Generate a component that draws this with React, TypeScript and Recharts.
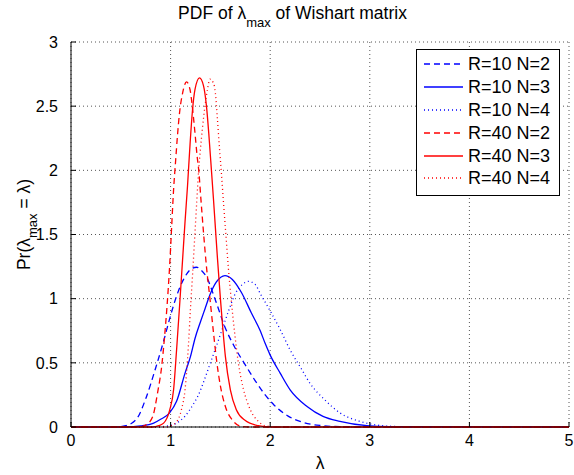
import React from 'react';
import { LineChart, Line, XAxis, YAxis, CartesianGrid, Legend, Label } from 'recharts';

// ---- data ----
const r10n2: number[][] = [
  [0, 0], [0.45, 0], [0.55, 0.01], [0.62, 0.035], [0.67, 0.075], [0.75, 0.22], [0.85, 0.46],
  [0.93, 0.67], [1.0, 0.87], [1.06, 1.02], [1.13, 1.15], [1.19, 1.22], [1.26, 1.245],
  [1.31, 1.22], [1.36, 1.17], [1.445, 1.0], [1.545, 0.78], [1.645, 0.62], [1.745, 0.49],
  [1.85, 0.36], [1.94, 0.26], [2.04, 0.17], [2.18, 0.085], [2.33, 0.036], [2.5, 0.012],
  [2.7, 0.003], [3.0, 0], [5, 0],
];
const r10n3: number[][] = [
  [0, 0], [0.55, 0], [0.7, 0.008], [0.83, 0.03], [0.9, 0.06], [0.99, 0.11], [1.06, 0.2],
  [1.145, 0.42], [1.2, 0.55], [1.245, 0.69], [1.3, 0.82], [1.345, 0.92], [1.395, 1.03],
  [1.46, 1.13], [1.546, 1.18], [1.62, 1.15], [1.71, 1.05], [1.81, 0.89], [1.9, 0.75],
  [1.95, 0.65], [2.0, 0.56], [2.1, 0.42], [2.2, 0.29], [2.37, 0.16], [2.53, 0.083],
  [2.7, 0.044], [2.97, 0.01], [3.2, 0.002], [5, 0],
];
const r10n4: number[][] = [
  [0, 0], [0.85, 0], [0.97, 0.008], [1.06, 0.03], [1.145, 0.085], [1.23, 0.18], [1.28, 0.25],
  [1.34, 0.37], [1.4, 0.5], [1.5, 0.72], [1.58, 0.9], [1.65, 1.04], [1.72, 1.11],
  [1.78, 1.135], [1.85, 1.11], [1.9, 1.04], [2.01, 0.89], [2.1, 0.76], [2.2, 0.6],
  [2.3, 0.47], [2.4, 0.34], [2.55, 0.21], [2.7, 0.11], [2.9, 0.044], [3.1, 0.012],
  [3.3, 0.003], [3.5, 0], [5, 0],
];
const r40n2: number[][] = [
  [0, 0], [0.66, 0], [0.72, 0.005], [0.76, 0.02], [0.82, 0.08], [0.87, 0.27], [0.91, 0.47],
  [0.94, 0.71], [0.965, 0.95], [0.99, 1.25], [1.01, 1.55], [1.03, 1.85], [1.05, 2.07],
  [1.07, 2.28], [1.09, 2.45], [1.12, 2.6], [1.16, 2.69], [1.195, 2.63], [1.21, 2.55],
  [1.245, 2.29], [1.265, 2.12], [1.285, 1.98], [1.3, 1.82], [1.33, 1.52], [1.36, 1.25],
  [1.395, 1.0], [1.43, 0.74], [1.46, 0.53], [1.5, 0.32], [1.55, 0.16], [1.63, 0.045],
  [1.71, 0.005], [1.8, 0], [5, 0],
];
const r40n3: number[][] = [
  [0, 0], [0.82, 0], [0.88, 0.01], [0.93, 0.03], [0.99, 0.13], [1.03, 0.29], [1.06, 0.6],
  [1.094, 0.99], [1.12, 1.3], [1.145, 1.6], [1.17, 1.88], [1.195, 2.2], [1.22, 2.47],
  [1.245, 2.63], [1.29, 2.72], [1.33, 2.66], [1.36, 2.5], [1.385, 2.27], [1.41, 2.0],
  [1.43, 1.78], [1.45, 1.55], [1.47, 1.32], [1.5, 1.0], [1.525, 0.76], [1.55, 0.55],
  [1.6, 0.29], [1.66, 0.135], [1.75, 0.05], [1.88, 0.01], [2.0, 0], [5, 0],
];
const r40n4: number[][] = [
  [0, 0], [0.95, 0], [1.0, 0.01], [1.06, 0.04], [1.11, 0.14], [1.145, 0.29], [1.16, 0.42],
  [1.18, 0.65], [1.2, 0.93], [1.22, 1.18], [1.24, 1.45], [1.26, 1.72], [1.28, 1.98],
  [1.3, 2.17], [1.32, 2.33], [1.345, 2.5], [1.37, 2.63], [1.395, 2.71], [1.43, 2.68],
  [1.45, 2.6], [1.47, 2.4], [1.49, 2.18], [1.51, 1.98], [1.53, 1.76], [1.555, 1.5],
  [1.58, 1.24], [1.61, 0.98], [1.645, 0.72], [1.68, 0.5], [1.73, 0.3], [1.8, 0.135],
  [1.88, 0.045], [1.95, 0.01], [2.05, 0], [5, 0],
];

const seriesNames = ['R=10 N=2', 'R=10 N=3', 'R=10 N=4', 'R=40 N=2', 'R=40 N=3', 'R=40 N=4'];
const seriesValues = [r10n2, r10n3, r10n4, r40n2, r40n3, r40n4];
const xTicks = [0, 1, 2, 3, 4, 5];
const yTicks = [0, 0.5, 1, 1.5, 2, 2.5, 3];

// ---- styles ----
const FF = '"Liberation Sans", Arial, Helvetica, sans-serif';
const BLUE = '#0000ff';
const RED = '#ff0000';
const styles = [
  { color: BLUE, dash: '6 4' },
  { color: BLUE, dash: undefined },
  { color: BLUE, dash: '1 3' },
  { color: RED, dash: '6 4' },
  { color: RED, dash: undefined },
  { color: RED, dash: '1 3' },
];

const series = seriesNames.map((name, i) => ({
  name,
  data: seriesValues[i].map(([x, y]) => ({ x, y })),
  ...styles[i],
}));

const LegendBox = () => (
  <div
    style={{
      border: '1px solid #000',
      background: '#fff',
      padding: '3px 0 5px 0',
      width: 142,
      fontFamily: FF,
      fontSize: 18,
      color: '#000',
    }}
  >
    {series.map((s) => (
      <div key={s.name} style={{ display: 'flex', alignItems: 'center', height: 22.8 }}>
        <svg width={48} height={10} style={{ flex: 'none' }}>
          <line x1={7} y1={5} x2={46} y2={5} stroke={s.color} strokeWidth={1.3} strokeDasharray={s.dash} />
        </svg>
        <span style={{ marginLeft: 3, whiteSpace: 'nowrap', lineHeight: '22px' }}>{s.name}</span>
      </div>
    ))}
  </div>
);

const YTitle = (props: any) => {
  const vb = props.viewBox || { x: 0, y: 42, width: 71, height: 385 };
  const cx = vb.x + 30;
  const cy = vb.y + vb.height / 2 - 10;
  return (
    <text transform={`translate(${cx},${cy}) rotate(-90)`} textAnchor="middle" fontFamily={FF} fontSize={17.5} fill="#000">
      Pr(λ
      <tspan fontSize={13} dy={7}>max</tspan>
      <tspan dy={-7}> = λ)</tspan>
    </text>
  );
};

const XTitle = (props: any) => {
  const vb = props.viewBox || { x: 71, y: 427, width: 498, height: 48 };
  return (
    <text x={vb.x + vb.width / 2} y={vb.y + 42} textAnchor="middle" fontFamily={FF} fontSize={17.5} fill="#000">
      λ
    </text>
  );
};

export default function App() {
  const tickStyle = { fill: '#000', fontSize: 16, fontFamily: FF };
  return (
    <div style={{ position: 'absolute', left: 0, top: 0, width: 574, height: 475, background: '#fff' }}>
      <LineChart width={574} height={475} margin={{ top: 42, right: 5, bottom: 0, left: 0 }}>
        <CartesianGrid stroke="#555" strokeDasharray="1 3" strokeWidth={1} />
        <XAxis
          dataKey="x"
          type="number"
          domain={[0, 5]}
          ticks={xTicks}
          height={48}
          tickSize={-5}
          tickMargin={13}
          tick={tickStyle}
          axisLine={{ stroke: '#000' }}
          tickLine={{ stroke: '#000' }}
          interval={0}
        >
          <Label content={<XTitle />} />
        </XAxis>
        <XAxis
          xAxisId="top"
          orientation="top"
          type="number"
          domain={[0, 5]}
          ticks={xTicks}
          height={0}
          tickSize={-5}
          tickFormatter={() => ''}
          axisLine={{ stroke: '#000' }}
          tickLine={{ stroke: '#000' }}
          interval={0}
        />
        <YAxis
          type="number"
          domain={[0, 3]}
          ticks={yTicks}
          width={71}
          tickSize={-5}
          tickMargin={18}
          tick={tickStyle}
          axisLine={{ stroke: '#000' }}
          tickLine={{ stroke: '#000' }}
          interval={0}
        >
          <Label content={<YTitle />} />
        </YAxis>
        <YAxis
          yAxisId="right"
          orientation="right"
          type="number"
          domain={[0, 3]}
          ticks={yTicks}
          width={0}
          tickSize={-5}
          tickFormatter={() => ''}
          axisLine={{ stroke: '#000' }}
          tickLine={{ stroke: '#000' }}
          interval={0}
        />
        <Legend
          layout="vertical"
          align="center"
          verticalAlign="middle"
          content={() => <LegendBox />}
          wrapperStyle={{ position: 'absolute', left: 416, top: 49, width: 144, height: 'auto' }}
        />
        {series.map((s) => (
          <Line
            key={s.name}
            name={s.name}
            data={s.data}
            dataKey="y"
            type="monotone"
            stroke={s.color}
            strokeWidth={1.3}
            strokeDasharray={s.dash}
            dot={false}
            activeDot={false}
            isAnimationActive={false}
            legendType="line"
          />
        ))}
      </LineChart>
      <svg width={574} height={40} style={{ position: 'absolute', left: 0, top: 0, pointerEvents: 'none' }}>
        <text x={292.5} y={19} textAnchor="middle" fontFamily={FF} fontSize={17.5} fill="#000">
          PDF of λ
          <tspan fontSize={13} dy={8}>max</tspan>
          <tspan dy={-8}> of Wishart matrix</tspan>
        </text>
      </svg>
    </div>
  );
}
